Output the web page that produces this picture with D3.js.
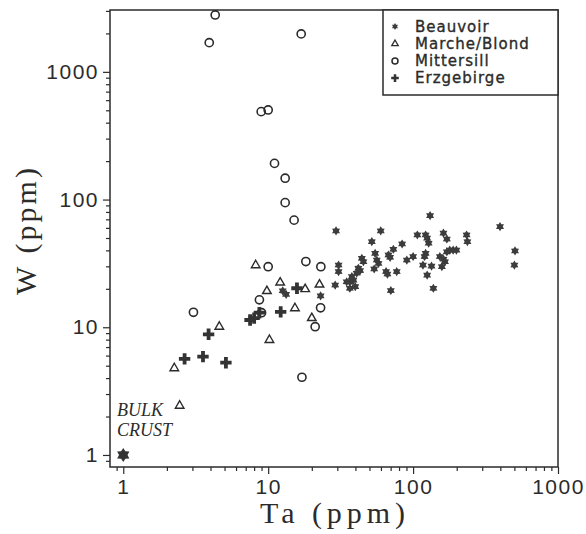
<!DOCTYPE html>
<html><head><meta charset="utf-8">
<script src="https://cdn.jsdelivr.net/npm/d3@7"></script>
<style>body{margin:0;background:#fff}</style>
</head><body>
<svg id="c" width="586" height="534"></svg>
<script>
const beauvoirTa = [29.4,59.8,51.9,131,107,122,125,128,162,171,234,237,398,505,500,84,73.1,67.6,69.4,54.7,56.2,57.7,53.9,44.3,45.4,41.9,43.1,40.8,37.8,38.8,36.6,39.9,36.6,34.8,30.6,30.6,29,65.1,66.5,77.1,70.2,90.5,100,122,120,117,125,134,138,153,162,166,158,171,179,189,199,12.6,13.3,23];
const beauvoirW  = [56.8,56.8,46.8,74.8,52.8,52.8,49.9,45.5,54.6,49.1,52.8,46.8,61.4,39.6,30.7,44.9,40.8,36.8,35.3,37.9,33.6,31.6,28.6,34.7,32.6,29,27.8,26.5,24.9,23.4,22.7,20.8,20.2,22.7,30.7,27.3,21.4,27.3,26.1,27.3,19.4,33.6,35.8,37.9,35.8,30.7,25.6,30.1,20.2,35.8,34.1,32.6,29.8,39.0,40.2,40.2,40.2,19.3,18.1,17.6];
const marcheTa = [8.2,12.1,9.8,18.0,22.6,20.0,15.3,4.6,2.25,2.45,10.2];
const marcheW  = [30.6,22.4,19.2,19.9,21.6,11.8,14.1,10.1,4.78,2.43,7.95];
const mittersillTa = [4.31,3.92,16.9,8.95,10.0,11.06,13.1,13.1,15.1,10.0,18.2,23.1,8.7,9.0,23,21.1,17.1,3.05];
const mittersillW  = [2790,1693,1982,488,503,192,147,94.6,69,29.8,32.7,29.8,16.4,13.0,14.2,10.1,4.06,13.1];
const erzTa = [2.65,3.55,5.11,3.88,7.5,8.0,8.7,12.2,15.8];
const erzW  = [5.65,5.89,5.28,8.81,11.4,11.8,13.0,13.2,20.2];
const crustTa = [1], crustW = [1];
const seriesNames = ["Beauvoir","Marche/Blond","Mittersill","Erzgebirge"];
const xTickLabels = ["1","10","100","1000"];
const yTickLabels = ["1","10","100","1000"];
const crustLabel = ["BULK","CRUST"];

const svg = d3.select("#c");
const ink = "#2b2b2b";
const L=110, R=558, T=10, B=467;
const x = d3.scaleLog().domain([0.81,1000]).range([L,R]);
const y = d3.scaleLog().domain([0.805,3050]).range([B,T]);

const star6 = {draw(ctx,size){const ro=Math.sqrt(size), ri=ro*0.6;
  for(let i=0;i<12;i++){const a=Math.PI/6*i - Math.PI/2; const r=i%2?ri:ro;
    const px=r*Math.cos(a), py=r*Math.sin(a); if(i===0) ctx.moveTo(px,py); else ctx.lineTo(px,py);} ctx.closePath();}};

function minors(lo,hi){const v=[];for(let e=-1;e<=3;e++)for(let m=1;m<10;m++){const t=m*Math.pow(10,e);if(t>=lo&&t<=hi&&m!==1)v.push(t);}return v;}
const xMajor = xTickLabels.map(Number), yMajor = yTickLabels.map(Number);
const fmtX = d=>xTickLabels[xMajor.indexOf(d)];
const fmtY = d=>yTickLabels[yMajor.indexOf(d)];

svg.append("g").attr("transform",`translate(0,${B})`)
  .call(d3.axisBottom(x).tickValues(xMajor).tickSize(7).tickPadding(5).tickFormat(fmtX));
svg.append("g").attr("transform",`translate(0,${B})`)
  .call(d3.axisBottom(x).tickValues(minors(0.81,1000)).tickSize(4).tickFormat(""));
svg.append("g").attr("transform",`translate(${L},0)`)
  .call(d3.axisLeft(y).tickValues(yMajor).tickSize(7).tickPadding(4).tickFormat(fmtY));
svg.append("g").attr("transform",`translate(${L},0)`)
  .call(d3.axisLeft(y).tickValues(minors(0.805,3050)).tickSize(4).tickFormat(""));
svg.selectAll(".tick line").attr("stroke",ink).attr("stroke-width",1.2);
svg.selectAll(".domain").remove();
svg.selectAll(".tick text").attr("font-family","Liberation Sans, Arial, sans-serif").attr("font-size",21)
  .attr("letter-spacing",1.5).attr("fill",ink);

svg.append("rect").attr("x",L).attr("y",T).attr("width",R-L).attr("height",B-T)
  .attr("fill","none").attr("stroke",ink).attr("stroke-width",1.5);

// axis titles
svg.append("text").attr("x",332.5).attr("y",523).attr("text-anchor","middle")
  .attr("textLength",145).attr("lengthAdjust","spacing")
  .attr("font-family","Liberation Serif, Times New Roman, serif").attr("font-size",30).attr("fill",ink).text("Ta (ppm)");
svg.append("text").attr("transform","translate(36,231.5) rotate(-90)").attr("text-anchor","middle")
  .attr("textLength",127).attr("lengthAdjust","spacing")
  .attr("font-family","Liberation Serif, Times New Roman, serif").attr("font-size",30).attr("fill",ink).text("W (ppm)");

// points
const pts = (ta,w)=>ta.map((t,i)=>({t,w:w[i]}));
svg.append("g").selectAll("path").data(pts(beauvoirTa,beauvoirW)).join("path")
  .attr("transform",d=>`translate(${x(d.t)},${y(d.w)})`)
  .attr("d",d3.symbol().type(star6).size(21)).attr("fill","#3c3c3c");
svg.append("g").selectAll("path").data(pts(marcheTa,marcheW)).join("path")
  .attr("transform",d=>`translate(${x(d.t)},${y(d.w)})`)
  .attr("d",d3.symbol().type(d3.symbolTriangle).size(32)).attr("fill","none").attr("stroke",ink).attr("stroke-width",1.4);
svg.append("g").selectAll("path").data(pts(mittersillTa,mittersillW)).join("path")
  .attr("transform",d=>`translate(${x(d.t)},${y(d.w)})`)
  .attr("d",d3.symbol().type(d3.symbolCircle).size(52)).attr("fill","none").attr("stroke",ink).attr("stroke-width",1.6);
svg.append("g").selectAll("path").data(pts(erzTa,erzW)).join("path")
  .attr("transform",d=>`translate(${x(d.t)},${y(d.w)})`)
  .attr("d",d3.symbol().type(d3.symbolCross).size(72)).attr("fill","#333");
svg.append("g").selectAll("path").data(pts(crustTa,crustW)).join("path")
  .attr("transform",d=>`translate(${x(d.t)},${y(d.w)})`)
  .attr("d",d3.symbol().type(star6).size(50)).attr("fill","#333");

svg.append("text").attr("font-family","Liberation Serif, Times New Roman, serif").attr("font-style","italic")
  .attr("font-size",18).attr("fill",ink)
  .selectAll("tspan").data(crustLabel).join("tspan").attr("x",117).attr("y",(d,i)=>416+i*20).text(d=>d);

// legend
const lg = svg.append("g");
lg.append("rect").attr("x",383).attr("y",T).attr("width",R-383).attr("height",85)
  .attr("fill","#fff").attr("stroke",ink).attr("stroke-width",1.5);
const syms = [
  g=>g.append("path").attr("d",d3.symbol().type(star6).size(12)).attr("fill","#3c3c3c"),
  g=>g.append("path").attr("d",d3.symbol().type(d3.symbolTriangle).size(18)).attr("fill","none").attr("stroke",ink).attr("stroke-width",1.3),
  g=>g.append("path").attr("d",d3.symbol().type(d3.symbolCircle).size(28)).attr("fill","none").attr("stroke",ink).attr("stroke-width",1.5),
  g=>g.append("path").attr("d",d3.symbol().type(d3.symbolCross).size(32)).attr("fill","#333")
];
seriesNames.forEach((n,i)=>{
  const yy = 31.5+i*17.2;
  const g = lg.append("g").attr("transform",`translate(395,${yy-5})`);
  syms[i](g);
  lg.append("text").attr("x",415).attr("y",yy).attr("font-family","DejaVu Sans, sans-serif")
    .attr("font-size",15).attr("letter-spacing",1).attr("fill",ink)
    .attr("stroke",ink).attr("stroke-width",0.35).text(n);
});
</script>
</body></html>
